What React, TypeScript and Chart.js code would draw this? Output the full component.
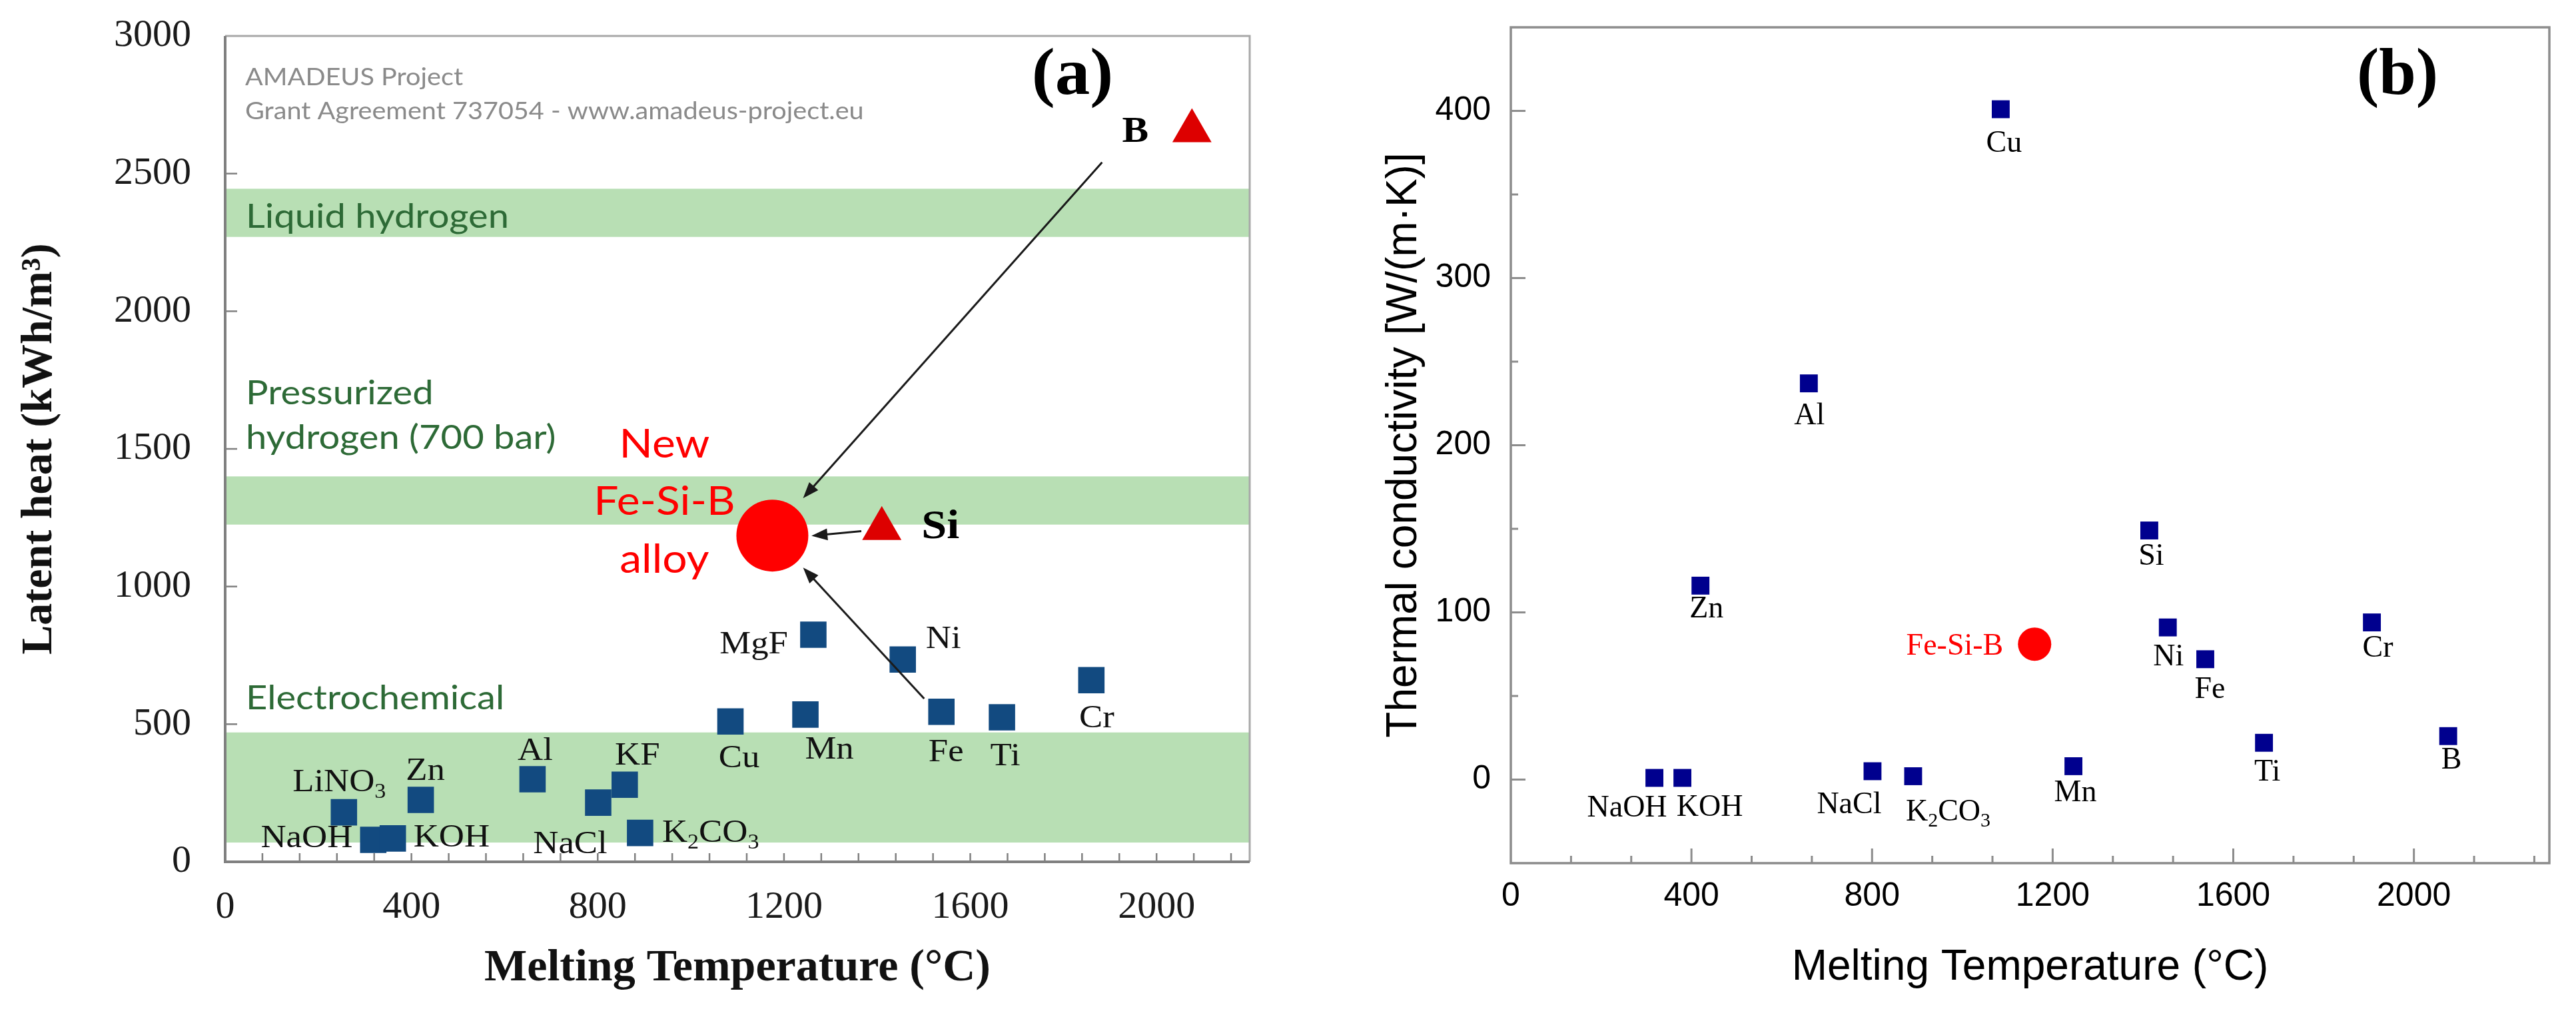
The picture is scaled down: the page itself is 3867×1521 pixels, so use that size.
import React, { useEffect, useRef } from 'react';
import { Chart, registerables } from 'chart.js';

Chart.register(...registerables);

// ---------------- Panel (a): latent heat vs melting temperature ----------------
const A_SQ_LABELS = ['LiNO_3', 'NaOH', 'KOH', 'Zn', 'Al', 'NaCl', 'KF', 'K_2CO_3', 'Cu', 'MgF', 'Mn', 'Ni', 'Fe', 'Ti', 'Cr'];
const A_SQ_MELT = [255, 318, 360, 420, 660, 801, 858, 891, 1085, 1263, 1246, 1455, 1538, 1668, 1860];
const A_SQ_HEAT = [180, 80, 85, 225, 300, 215, 280, 105, 510, 825, 535, 735, 545, 525, 660];

const A_TRI_LABELS = ['Si', 'B'];
const A_TRI_MELT = [1410, 2076];
const A_TRI_HEAT = [1210, 2655];

const A_ALLOY_MELT = [1175];
const A_ALLOY_HEAT = [1185];
const A_ALLOY_TEXT = ['New', 'Fe-Si-B', 'alloy'];

const A_BAND_NAMES = ['Liquid hydrogen', 'Pressurized hydrogen (700 bar)', 'Electrochemical'];
const A_BAND_LOW = [2270, 1225, 70];
const A_BAND_HIGH = [2445, 1400, 470];

const A_ARROW_X0 = [1883, 1366, 1501];
const A_ARROW_Y0 = [2541, 1201, 593];
const A_ARROW_X1 = [1241, 1259, 1241];
const A_ARROW_Y1 = [1321, 1184, 1069];

const A_X_TICKS = [0, 400, 800, 1200, 1600, 2000];
const A_Y_TICKS = [0, 500, 1000, 1500, 2000, 2500, 3000];

const A_WATERMARK = ['AMADEUS Project', 'Grant Agreement 737054 - www.amadeus-project.eu'];

// ---------------- Panel (b): thermal conductivity vs melting temperature ----------------
const B_SQ_LABELS = ['NaOH', 'KOH', 'Zn', 'Al', 'NaCl', 'K_2CO_3', 'Cu', 'Mn', 'Si', 'Ni', 'Fe', 'Ti', 'Cr', 'B'];
const B_SQ_MELT = [318, 380, 420, 660, 801, 891, 1085, 1246, 1414, 1455, 1538, 1668, 1907, 2076];
const B_SQ_COND = [1, 1, 116, 237, 5, 2, 401, 8, 149, 91, 72, 22, 94, 26];

const B_ALLOY_LABEL = ['Fe-Si-B'];
const B_ALLOY_MELT = [1160];
const B_ALLOY_COND = [81];

const B_X_TICKS = [0, 400, 800, 1200, 1600, 2000];
const B_Y_TICKS = [0, 100, 200, 300, 400];

// ---------------- layout / style (not data) ----------------
const SERIF = "'Liberation Serif', 'Times New Roman', serif";
const SANS = "'Liberation Sans', Arial, sans-serif";
const CAL = "Lato, 'Noto Sans', sans-serif";
const BAND_COLOR = '#B8DFB4';
const BAND_TEXT = '#2D6A36';
const SX_A = 1.1;

// label placement offsets in px relative to the marker: [dx, dy, align]
const A_SQ_LABEL_POS: [number, number, string][] = [
  [-7, -44, 'center'], [-31, -2, 'right'], [31, 0, 'left'], [7, -43, 'center'], [4, -42, 'center'],
  [-42, 63, 'center'], [19, -43, 'center'], [33, 1, 'left'], [13, 56, 'center'], [-38, 15, 'right'],
  [36, 54, 'center'], [61, -30, 'center'], [7, 62, 'center'], [5, 59, 'center'], [8, 58, 'center'],
];
const A_TRI_LABEL_POS: [number, number, number][] = [[88, -2, 62], [-85, 2, 54]];
const A_ALLOY_TEXT_POS: [number, number][] = [[-162, -137], [-162, -51], [-162, 36]];
const A_BAND_TEXT_LINES: { text: string; value: number }[][] = [
  [{ text: 'Liquid hydrogen', value: 2342 }],
  [{ text: 'Pressurized', value: 1703 }, { text: 'hydrogen (700 bar)', value: 1541 }],
  [{ text: 'Electrochemical', value: 593 }],
];
const B_SQ_LABEL_POS: [number, number, string][] = [
  [-41, 46, 'center'], [41, 45, 'center'], [9, 36, 'center'], [1, 49, 'center'], [-35, 51, 'center'],
  [-11, 54, 'left'], [5, 52, 'center'], [3, 41, 'center'], [3, 39, 'center'], [1, 45, 'center'],
  [7, 46, 'center'], [5, 45, 'center'], [9, 39, 'center'], [5, 37, 'center'],
];

type TOpts = { size: number; family: string; weight?: string; color: string; align?: string; sx?: number };

function drawRich(ctx: CanvasRenderingContext2D, text: string, x: number, y: number, o: TOpts) {
  const segs = text.split(/(_\d+)/).filter((s) => s.length > 0);
  const w8 = o.weight || 'normal';
  const fontN = `${w8} ${o.size}px ${o.family}`;
  const fontS = `${w8} ${Math.round(o.size * 0.65)}px ${o.family}`;
  let w = 0;
  const items = segs.map((s) => {
    const sub = s[0] === '_';
    const t = sub ? s.slice(1) : s;
    ctx.font = sub ? fontS : fontN;
    const mw = ctx.measureText(t).width;
    const it = { t, sub, x: w };
    w += mw;
    return it;
  });
  const align = o.align || 'center';
  const start = align === 'left' ? 0 : align === 'right' ? -w : -w / 2;
  ctx.save();
  ctx.translate(x, y);
  ctx.scale(o.sx || 1, 1);
  ctx.fillStyle = o.color;
  ctx.textBaseline = 'middle';
  ctx.textAlign = 'left';
  items.forEach((it) => {
    ctx.font = it.sub ? fontS : fontN;
    ctx.fillText(it.t, start + it.x, it.sub ? o.size * 0.3 : 0);
  });
  ctx.restore();
}

function drawArrow(ctx: CanvasRenderingContext2D, x0: number, y0: number, x1: number, y1: number) {
  const ang = Math.atan2(y1 - y0, x1 - x0);
  const hl = 24;
  const hw = 9;
  ctx.save();
  ctx.strokeStyle = '#1a1a1a';
  ctx.fillStyle = '#1a1a1a';
  ctx.lineWidth = 3;
  ctx.beginPath();
  ctx.moveTo(x0, y0);
  ctx.lineTo(x1 - Math.cos(ang) * hl * 0.8, y1 - Math.sin(ang) * hl * 0.8);
  ctx.stroke();
  ctx.beginPath();
  ctx.moveTo(x1, y1);
  ctx.lineTo(x1 - Math.cos(ang) * hl - Math.sin(ang) * hw, y1 - Math.sin(ang) * hl + Math.cos(ang) * hw);
  ctx.lineTo(x1 - Math.cos(ang) * hl + Math.sin(ang) * hw, y1 - Math.sin(ang) * hl - Math.cos(ang) * hw);
  ctx.closePath();
  ctx.fill();
  ctx.restore();
}

const panelAPlugin = {
  id: 'panelA',
  beforeDatasetsDraw(chart: any) {
    const { ctx, chartArea, scales } = chart;
    const { left, right, top, bottom } = chartArea;
    const xs = scales.x;
    const ys = scales.y;
    ctx.save();
    ctx.fillStyle = BAND_COLOR;
    A_BAND_LOW.forEach((lo, i) => {
      const y1 = ys.getPixelForValue(A_BAND_HIGH[i]);
      const y2 = ys.getPixelForValue(lo);
      ctx.fillRect(left, y1, right - left, y2 - y1);
    });
    A_BAND_TEXT_LINES.forEach((lines) => {
      lines.forEach((ln) => {
        drawRich(ctx, ln.text, left + 31, ys.getPixelForValue(ln.value), {
          size: 51, family: CAL, color: BAND_TEXT, align: 'left', sx: SX_A,
        });
      });
    });
    drawRich(ctx, A_WATERMARK[0], left + 30, top + 62, { size: 36, family: CAL, color: '#8A8A8A', align: 'left', sx: SX_A });
    drawRich(ctx, A_WATERMARK[1], left + 30, top + 113, { size: 36, family: CAL, color: '#8A8A8A', align: 'left', sx: SX_A });
    ctx.lineWidth = 3;
    ctx.strokeStyle = '#A8A8A8';
    ctx.beginPath();
    ctx.moveTo(left, top);
    ctx.lineTo(right, top);
    ctx.lineTo(right, bottom);
    ctx.stroke();
    ctx.strokeStyle = '#808080';
    ctx.lineWidth = 4;
    ctx.beginPath();
    ctx.moveTo(left, top);
    ctx.lineTo(left, bottom);
    ctx.lineTo(right, bottom);
    ctx.stroke();
    ctx.lineWidth = 2.5;
    ctx.strokeStyle = '#808080';
    for (let v = 80; v < 2200; v += 80) {
      const px = xs.getPixelForValue(v);
      ctx.beginPath();
      ctx.moveTo(px, bottom);
      ctx.lineTo(px, bottom - 13);
      ctx.stroke();
    }
    A_Y_TICKS.forEach((v) => {
      if (v === 0 || v === 3000) return;
      const py = ys.getPixelForValue(v);
      ctx.beginPath();
      ctx.moveTo(left, py);
      ctx.lineTo(left + 18, py);
      ctx.stroke();
    });
    ctx.restore();
  },
  afterDatasetsDraw(chart: any) {
    const { ctx, scales } = chart;
    const xs = scales.x;
    const ys = scales.y;
    A_SQ_LABELS.forEach((lab, i) => {
      const px = xs.getPixelForValue(A_SQ_MELT[i]);
      const py = ys.getPixelForValue(A_SQ_HEAT[i]);
      const [dx, dy, al] = A_SQ_LABEL_POS[i];
      drawRich(ctx, lab, px + dx, py + dy, { size: 48, family: SERIF, color: '#111', align: al, sx: SX_A });
    });
    A_TRI_LABELS.forEach((lab, i) => {
      const px = xs.getPixelForValue(A_TRI_MELT[i]);
      const py = ys.getPixelForValue(A_TRI_HEAT[i]);
      const [dx, dy, sz] = A_TRI_LABEL_POS[i];
      drawRich(ctx, lab, px + dx, py + dy, { size: sz, family: SERIF, weight: 'bold', color: '#000', align: 'center', sx: SX_A });
    });
    const cx = xs.getPixelForValue(A_ALLOY_MELT[0]);
    const cy = ys.getPixelForValue(A_ALLOY_HEAT[0]);
    A_ALLOY_TEXT.forEach((t, i) => {
      const [dx, dy] = A_ALLOY_TEXT_POS[i];
      drawRich(ctx, t, cx + dx, cy + dy, { size: 60, family: CAL, color: '#FF0000', align: 'center', sx: SX_A });
    });
    A_ARROW_X0.forEach((_, i) => {
      drawArrow(
        ctx,
        xs.getPixelForValue(A_ARROW_X0[i]), ys.getPixelForValue(A_ARROW_Y0[i]),
        xs.getPixelForValue(A_ARROW_X1[i]), ys.getPixelForValue(A_ARROW_Y1[i]),
      );
    });
    drawRich(ctx, '(a)', 1610, 115, { size: 100, family: SERIF, weight: 'bold', color: '#000', align: 'center', sx: 1.05 });
  },
};

const panelBPlugin = {
  id: 'panelB',
  beforeDatasetsDraw(chart: any) {
    const { ctx, chartArea, scales } = chart;
    const { left, right, top, bottom } = chartArea;
    const xs = scales.x;
    const ys = scales.y;
    ctx.save();
    ctx.strokeStyle = '#8C8C8C';
    ctx.lineWidth = 3.5;
    ctx.strokeRect(left, top, right - left, bottom - top);
    ctx.lineWidth = 3;
    for (let k = 1; (k * 400) / 3 < 2300; k++) {
      const v = (k * 400) / 3;
      const major = k % 3 === 0;
      const px = xs.getPixelForValue(v);
      ctx.beginPath();
      ctx.moveTo(px, bottom);
      ctx.lineTo(px, bottom - (major ? 22 : 11));
      ctx.stroke();
    }
    for (let v = 0; v < 450; v += 50) {
      const major = v % 100 === 0;
      const py = ys.getPixelForValue(v);
      ctx.beginPath();
      ctx.moveTo(left, py);
      ctx.lineTo(left + (major ? 22 : 11), py);
      ctx.stroke();
    }
    ctx.restore();
  },
  afterDatasetsDraw(chart: any) {
    const { ctx, scales } = chart;
    const xs = scales.x;
    const ys = scales.y;
    B_SQ_LABELS.forEach((lab, i) => {
      const px = xs.getPixelForValue(B_SQ_MELT[i]);
      const py = ys.getPixelForValue(B_SQ_COND[i]);
      const [dx, dy, al] = B_SQ_LABEL_POS[i];
      drawRich(ctx, lab, px + dx, py + dy, { size: 46, family: SERIF, color: '#000', align: al });
    });
    const cx = xs.getPixelForValue(B_ALLOY_MELT[0]);
    const cy = ys.getPixelForValue(B_ALLOY_COND[0]);
    drawRich(ctx, B_ALLOY_LABEL[0], cx - 47, cy + 4, { size: 46, family: SERIF, color: '#FF0000', align: 'right' });
    drawRich(ctx, '(b)', 3599 - 1930, 115, { size: 100, family: SERIF, weight: 'bold', color: '#000', align: 'center' });
  },
};

function fixX(h: number) {
  return (s: any) => {
    s.height = h;
    s.paddingLeft = 0;
    s.paddingRight = 0;
  };
}
function fixY(w: number) {
  return (s: any) => {
    s.width = w;
    s.paddingTop = 0;
    s.paddingBottom = 0;
  };
}

function makeChartA(canvas: HTMLCanvasElement) {
  return new Chart(canvas, {
    type: 'scatter',
    data: {
      datasets: [
        {
          label: 'Candidate PCMs',
          data: A_SQ_MELT.map((x, i) => ({ x, y: A_SQ_HEAT[i] })),
          pointStyle: 'rect',
          pointRadius: 28,
          pointHoverRadius: 28,
          backgroundColor: '#124A80',
          borderWidth: 0,
        },
        {
          label: 'Si, B',
          data: A_TRI_MELT.map((x, i) => ({ x, y: A_TRI_HEAT[i] })),
          pointStyle: 'triangle',
          pointRadius: 34,
          pointHoverRadius: 34,
          backgroundColor: '#DD0000',
          borderWidth: 0,
        },
        {
          label: 'New Fe-Si-B alloy',
          data: A_ALLOY_MELT.map((x, i) => ({ x, y: A_ALLOY_HEAT[i] })),
          pointStyle: 'circle',
          pointRadius: 54,
          pointHoverRadius: 54,
          backgroundColor: '#FF0000',
          borderWidth: 0,
        },
      ],
    },
    options: {
      animation: false,
      responsive: false,
      devicePixelRatio: 1,
      events: [],
      layout: { padding: { top: 42, right: 30, left: 0, bottom: 0 } },
      plugins: { legend: { display: false }, tooltip: { enabled: false } },
      scales: {
        x: {
          type: 'linear',
          min: 0,
          max: 2200,
          grid: { display: false, drawTicks: false },
          border: { display: false },
          afterBuildTicks: (s: any) => { s.ticks = A_X_TICKS.map((v) => ({ value: v })); },
          afterFit: fixX(227),
          ticks: {
            padding: 34, maxRotation: 0, autoSkip: false, color: '#1a1a1a',
            font: { family: SERIF, size: 58 },
            callback: (v: any) => String(v),
          },
          title: {
            display: true, text: 'Melting Temperature (°C)', color: '#111',
            font: { family: SERIF, size: 68, weight: 'bold' },
            padding: { top: 0, bottom: 26 },
          },
        },
        y: {
          type: 'linear',
          min: 0,
          max: 3000,
          grid: { display: false, drawTicks: false },
          border: { display: false },
          afterBuildTicks: (s: any) => { s.ticks = A_Y_TICKS.map((v) => ({ value: v })); },
          afterFit: fixY(338),
          ticks: {
            padding: 51, color: '#1a1a1a',
            font: { family: SERIF, size: 58 },
            callback: (v: any) => String(v),
          },
          title: {
            display: true, text: 'Latent heat (kWh/m³)', color: '#111',
            font: { family: SERIF, size: 66, weight: 'bold' },
            padding: { top: 20, bottom: 0 },
          },
        },
      },
    },
    plugins: [panelAPlugin],
  } as any);
}

function makeChartB(canvas: HTMLCanvasElement) {
  return new Chart(canvas, {
    type: 'scatter',
    data: {
      datasets: [
        {
          label: 'Materials',
          data: B_SQ_MELT.map((x, i) => ({ x, y: B_SQ_COND[i] })),
          pointStyle: 'rect',
          pointRadius: 19,
          pointHoverRadius: 19,
          backgroundColor: '#00008E',
          borderWidth: 0,
        },
        {
          label: 'Fe-Si-B',
          data: B_ALLOY_MELT.map((x, i) => ({ x, y: B_ALLOY_COND[i] })),
          pointStyle: 'circle',
          pointRadius: 25,
          pointHoverRadius: 25,
          backgroundColor: '#FF0000',
          borderWidth: 0,
        },
      ],
    },
    options: {
      animation: false,
      responsive: false,
      devicePixelRatio: 1,
      events: [],
      layout: { padding: { top: 41, right: 40, left: 0, bottom: 0 } },
      plugins: { legend: { display: false }, tooltip: { enabled: false } },
      scales: {
        x: {
          type: 'linear',
          min: 0,
          max: 2300,
          grid: { display: false, drawTicks: false },
          border: { display: false },
          afterBuildTicks: (s: any) => { s.ticks = B_X_TICKS.map((v) => ({ value: v })); },
          afterFit: fixX(225),
          ticks: {
            padding: 20, maxRotation: 0, autoSkip: false, color: '#000',
            font: { family: SANS, size: 50 },
            callback: (v: any) => String(v),
          },
          title: {
            display: true, text: 'Melting Temperature (°C)', color: '#000',
            font: { family: SANS, size: 64 },
            padding: { top: 0, bottom: 29 },
          },
        },
        y: {
          type: 'linear',
          min: -50,
          max: 450,
          grid: { display: false, drawTicks: false },
          border: { display: false },
          afterBuildTicks: (s: any) => { s.ticks = B_Y_TICKS.map((v) => ({ value: v })); },
          afterFit: fixY(338),
          ticks: {
            padding: 30, color: '#000',
            font: { family: SANS, size: 50 },
            callback: (v: any) => String(v),
          },
          title: {
            display: true, text: 'Thermal conductivity [W/(m·K)]', color: '#000',
            font: { family: SANS, size: 64 },
            padding: { top: 140, bottom: 0 },
          },
        },
      },
    },
    plugins: [panelBPlugin],
  } as any);
}

export default function App() {
  const refA = useRef<HTMLCanvasElement | null>(null);
  const refB = useRef<HTMLCanvasElement | null>(null);

  useEffect(() => {
    if (!refA.current || !refB.current) return;
    const a = makeChartA(refA.current);
    const b = makeChartB(refB.current);
    return () => {
      a.destroy();
      b.destroy();
    };
  }, []);

  return (
    <div style={{ position: 'absolute', left: 0, top: 0, width: 3867, height: 1521, background: '#fff', overflow: 'hidden' }}>
      <canvas ref={refA} width={1930} height={1521} style={{ position: 'absolute', left: 0, top: 0 }} />
      <canvas ref={refB} width={1937} height={1521} style={{ position: 'absolute', left: 1930, top: 0 }} />
    </div>
  );
}
